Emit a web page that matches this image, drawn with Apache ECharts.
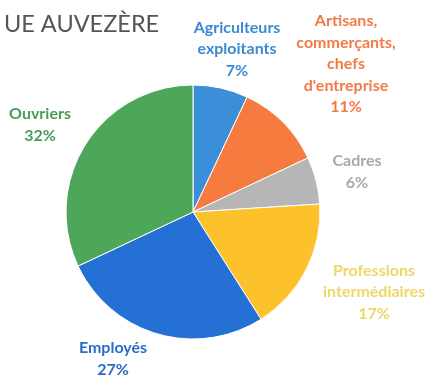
<!DOCTYPE html>
<html>
<head>
<meta charset="utf-8">
<script src="https://cdn.jsdelivr.net/npm/echarts@6/dist/echarts.min.js"></script>
<style>
  html, body { margin: 0; padding: 0; background: #fff; }
  #chart { width: 429px; height: 376px; }
</style>
</head>
<body>
<div id="chart"></div>
<script>
// Socio-professional categories, clockwise from 12 o'clock
const categories = [
  "Agriculteurs\nexploitants",
  "Artisans,\ncommerçants,\nchefs\nd'entreprise",
  "Cadres",
  "Professions\nintermédiaires",
  "Employés",
  "Ouvriers"
];
const shares = [7, 11, 6, 17, 27, 32];

const sliceColors = ["#3b8fd8", "#f57b3e", "#b6b6b6", "#fdc22b", "#2570d5", "#4ea65b"];
const labelColors = ["#3a8ad3", "#f47a45", "#a8a8a8", "#efd767", "#2b6cc6", "#4b9b58"];
// label anchor points (centre of each text block)
const labelAnchors = [[237, 49], [346, 64], [357, 172], [374, 292], [113, 359], [40, 125]];

const chart = echarts.init(document.getElementById('chart'), null, { renderer: 'canvas' });

chart.setOption({
  animation: false,
  backgroundColor: '#ffffff',
  title: {
    text: 'UE AUVEZÈRE',
    left: -1,
    top: 7,
    textStyle: {
      fontFamily: 'Lato, sans-serif',
      fontWeight: 'normal',
      fontSize: 23.5,
      color: '#555555'
    }
  },
  series: [{
    type: 'pie',
    center: [193, 212],
    radius: 127,
    startAngle: 90,
    clockwise: true,
    itemStyle: { borderColor: '#ffffff', borderWidth: 1 },
    labelLine: { show: false },
    label: {
      show: true,
      position: 'outside',
      formatter: '{b}\n{c}%',
      fontFamily: 'Lato, sans-serif',
      fontWeight: 'bold',
      fontSize: 16,
      lineHeight: 21.5,
      align: 'center',
      overflow: 'none',
      width: 200
    },
    labelLayout: function (p) {
      const a = labelAnchors[p.dataIndex];
      return { x: a[0], y: a[1], align: 'center', verticalAlign: 'middle', hideOverlap: false, moveOverlap: null };
    },
    data: categories.map((name, i) => ({
      name: name,
      value: shares[i],
      itemStyle: { color: sliceColors[i] },
      label: { color: labelColors[i] }
    }))
  }]
});
</script>
</body>
</html>
